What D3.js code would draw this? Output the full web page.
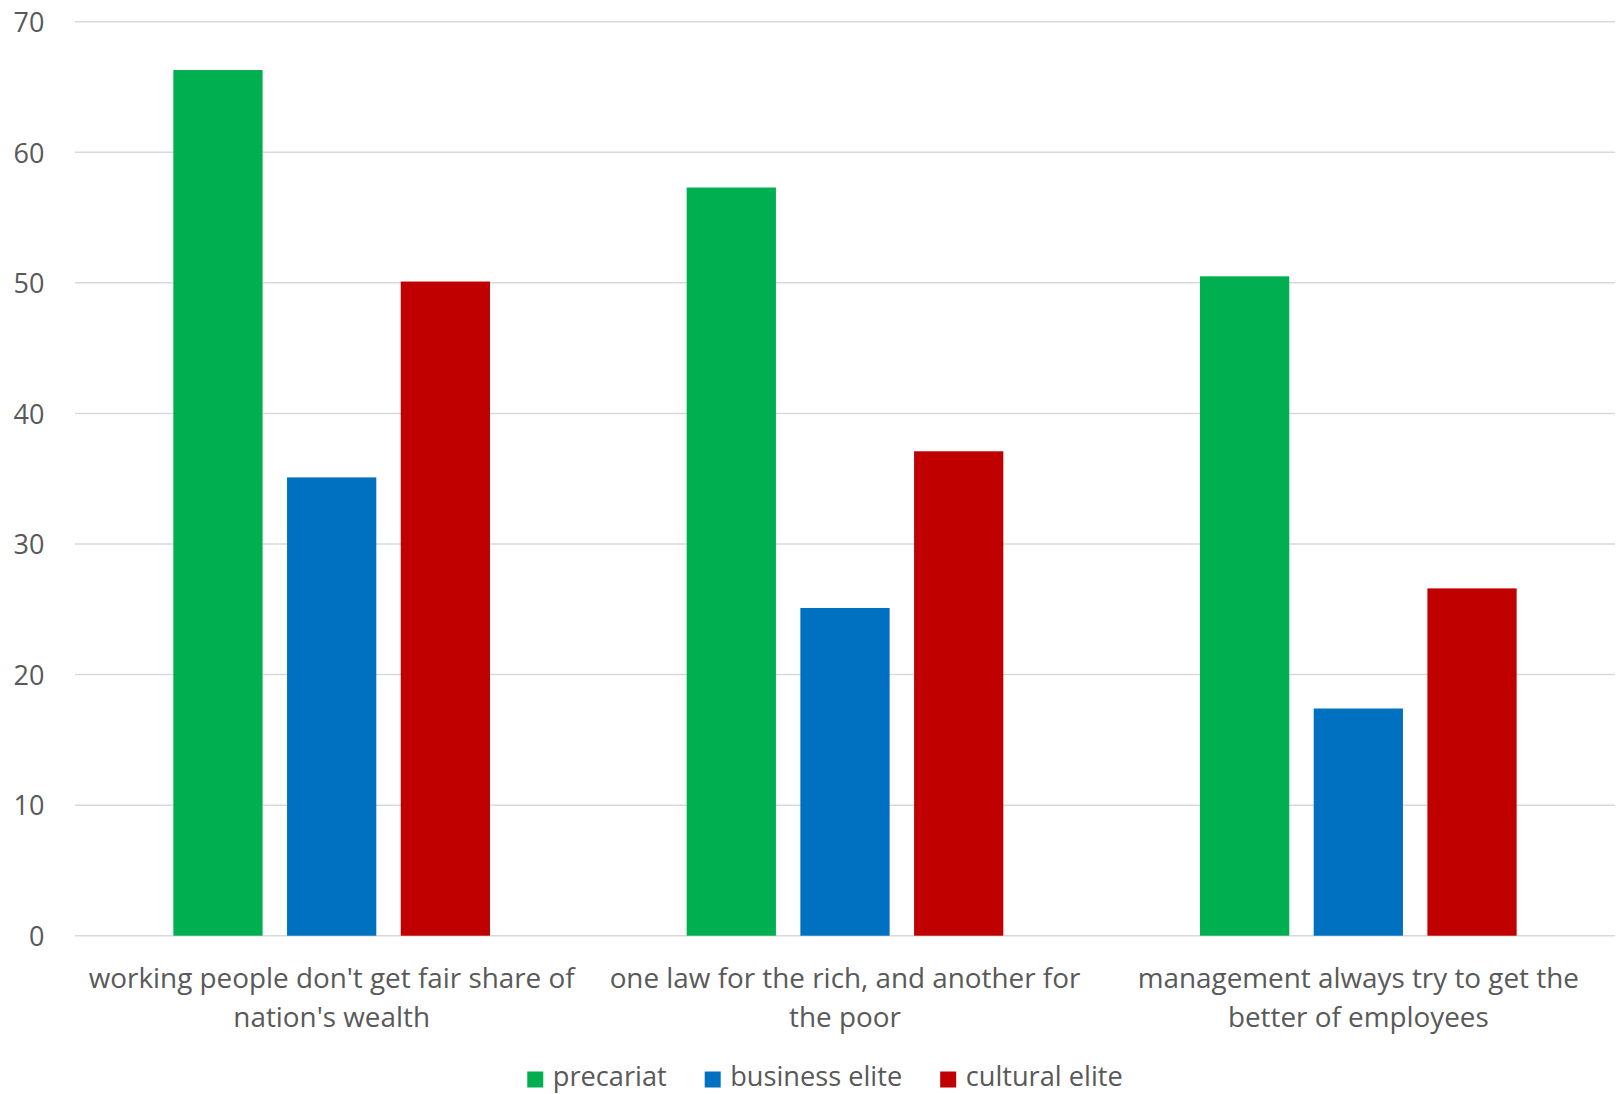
<!DOCTYPE html>
<html>
<head>
<meta charset="utf-8">
<script src="https://cdn.jsdelivr.net/npm/d3@7/dist/d3.min.js"></script>
<style>
  html, body { margin: 0; padding: 0; background: #ffffff; }
  svg { display: block; }
  text { font-family: "Open Sans", Lato, sans-serif; fill: #595959; }
</style>
</head>
<body>
<svg id="chart" width="1619" height="1094"></svg>
<script>
// ---- data ----
const categories = [
  "working people don't get fair share of nation's wealth",
  "one law for the rich, and another for the poor",
  "management always try to get the better of employees"
];
const categoryLines = [
  ["working people don't get fair share of", "nation's wealth"],
  ["one law for the rich, and another for", "the poor"],
  ["management always try to get the", "better of employees"]
];
const seriesNames = ["precariat", "business elite", "cultural elite"];
const seriesColors = ["#00B050", "#0070C0", "#C00000"];
const precariat = [66.3, 57.3, 50.5];
const businessElite = [35.1, 25.1, 17.4];
const culturalElite = [50.1, 37.1, 26.6];
const yTicks = [0, 10, 20, 30, 40, 50, 60, 70];

// ---- layout ----
const svg = d3.select("#chart");
const plotLeft = 75, plotRight = 1615, plotTop = 21.7, plotBottom = 935.7;
const seriesValues = [precariat, businessElite, culturalElite];

const y = d3.scaleLinear().domain([0, 70]).range([plotBottom, plotTop]);
const x0 = d3.scaleBand().domain(categories).range([plotLeft, plotRight]).paddingInner(0).paddingOuter(0);
const x1 = d3.scaleBand().domain(seriesNames).range([0, x0.bandwidth()]).paddingInner(0.215).paddingOuter(0.865);

// measure helper to match label width of reference
function fitSize(str, target, base) {
  const t = svg.append("text").attr("font-size", base).text(str);
  const w = t.node().getComputedTextLength();
  t.remove();
  return base * target / w;
}
const catSize = fitSize(categoryLines[0][0], 486, 26);
const legSize = fitSize(seriesNames[0], 114, 26);

// gridlines
svg.append("g").selectAll("line").data(yTicks).join("line")
  .attr("x1", plotLeft).attr("x2", plotRight)
  .attr("y1", d => y(d)).attr("y2", d => y(d))
  .attr("stroke", "#d9d9d9").attr("stroke-width", 1.5);

// y axis labels
const yAxis = d3.axisLeft(y).tickValues(yTicks).tickSize(0).tickPadding(0);
const yg = svg.append("g").attr("transform", `translate(44.5,0)`).call(yAxis);
yg.select(".domain").remove();
yg.selectAll("text")
  .attr("font-size", 27).attr("fill", "#595959")
  .attr("font-family", "'Open Sans', Lato, sans-serif")
  .attr("dy", "0.36em").attr("x", 0);

// bars
const groups = svg.append("g").selectAll("g").data(categories).join("g")
  .attr("transform", d => `translate(${x0(d)},0)`);
groups.selectAll("rect")
  .data((d, i) => seriesNames.map((s, j) => ({ s, j, v: seriesValues[j][i] })))
  .join("rect")
  .attr("x", d => x1(d.s))
  .attr("width", x1.bandwidth())
  .attr("y", d => y(d.v))
  .attr("height", d => y(0) - y(d.v))
  .attr("fill", d => seriesColors[d.j]);

// category labels
const catG = svg.append("g");
categories.forEach((c, i) => {
  const cx = x0(c) + x0.bandwidth() / 2;
  const t = catG.append("text").attr("text-anchor", "middle").attr("font-size", catSize);
  categoryLines[i].forEach((ln, k) => {
    t.append("tspan").attr("x", cx).attr("y", 988 + k * 39).text(ln);
  });
});

// legend
const legend = svg.append("g");
let cursor = 0;
seriesNames.forEach((s, j) => {
  const g = legend.append("g");
  g.append("rect").attr("x", 0).attr("y", -8).attr("width", 16).attr("height", 16).attr("fill", seriesColors[j]);
  const t = g.append("text").attr("x", 25.5).attr("y", 6).attr("font-size", legSize).text(s);
  const w = 25.5 + t.node().getComputedTextLength();
  g.attr("transform", `translate(${cursor},1079.5)`);
  cursor += w + 38;
});
const totalW = cursor - 38;
legend.attr("transform", `translate(${825 - totalW / 2},0)`);
</script>
</body>
</html>
